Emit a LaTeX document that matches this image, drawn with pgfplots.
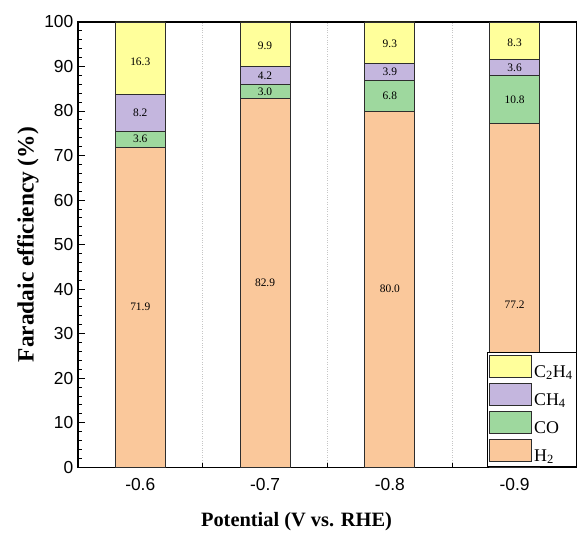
\documentclass[border=0pt]{standalone}
\usepackage{fontspec}
\setmainfont{Liberation Serif}
\newfontfamily\arial{Liberation Sans}
\usepackage{pgfplots}
\pgfplotsset{compat=1.18}
\usetikzlibrary{calc}
\definecolor{cH}{RGB}{250,200,155}
\definecolor{cCO}{RGB}{158,216,158}
\definecolor{cCH}{RGB}{196,182,222}
\definecolor{cCC}{RGB}{255,255,155}
\definecolor{edge}{RGB}{45,45,45}
\tikzset{lbl/.style={font=\fontsize{11.5}{13}\selectfont}}
\begin{document}
\begin{tikzpicture}
\begin{axis}[name=ax, width=500bp, height=446bp, scale only axis,
 xmin=-0.5, xmax=3.5, ymin=0, ymax=100,
 ybar stacked, bar width=0.4,
 legend image code/.code={\draw[#1, draw=edge, line width=0.8bp] (0bp,-5bp) rectangle (42bp,17bp);},
 xtick={0,1,2,3}, xticklabels={-0.6,-0.7,-0.8,-0.9},
 minor xtick={0.5,1.5,2.5},
 ytick={0,10,...,100}, minor y tick num=4,
 xtick pos=bottom, ytick pos=left, tick align=inside,
 major tick length=7bp, minor tick length=4bp,
 tick style={black, line width=0.9bp},
 axis line style={black, line width=1.3bp},
 xminorgrids, minor x grid style={gray!45, dotted, line width=0.7bp},
 /pgf/number format/assume math mode=true,
 ticklabel style={font=\arial\fontsize{17.5}{19}\selectfont},
 xticklabel style={yshift=-8bp},
 yticklabel style={xshift=-1bp},
 xlabel={Potential (V vs. RHE)}, ylabel={Faradaic efficiency (\%)},
 xlabel style={font=\fontsize{20.5}{22}\selectfont\bfseries, at={(axis description cs:0.438,-0.123)}, anchor=center},
 ylabel style={font=\fontsize{23.5}{25}\selectfont\bfseries, at={(axis description cs:-0.1,0.5)}, anchor=center},
 reverse legend,
 legend style={at={(1,0)}, anchor=south east, draw=black, line width=1bp,
   font=\fontsize{18}{20}\selectfont, cells={anchor=west}, row sep=2bp,
   inner xsep=2bp, inner ysep=2bp},
 ]
\addplot[fill=cH, draw=edge, line width=0.8bp] coordinates {(0,71.9) (1,82.9) (2,80.0) (3,77.2)};
\addlegendentry{H\textsubscript{2}}
\addplot[fill=cCO, draw=edge, line width=0.8bp] coordinates {(0,3.6) (1,3.0) (2,6.8) (3,10.8)};
\addlegendentry{CO}
\addplot[fill=cCH, draw=edge, line width=0.8bp] coordinates {(0,8.2) (1,4.2) (2,3.9) (3,3.6)};
\addlegendentry{CH\textsubscript{4}}
\addplot[fill=cCC, draw=edge, line width=0.8bp] coordinates {(0,16.3) (1,9.9) (2,9.3) (3,8.3)};
\addlegendentry{C\textsubscript{2}H\textsubscript{4}}
\coordinate (h0) at (axis cs:0,36.0);
\coordinate (h1) at (axis cs:1,41.4);
\coordinate (h2) at (axis cs:2,40.0);
\coordinate (h3) at (axis cs:3,36.5);
\coordinate (o0) at (axis cs:0,73.7);
\coordinate (o1) at (axis cs:1,84.4);
\coordinate (o2) at (axis cs:2,83.4);
\coordinate (o3) at (axis cs:3,82.6);
\coordinate (m0) at (axis cs:0,79.6);
\coordinate (m1) at (axis cs:1,88.0);
\coordinate (m2) at (axis cs:2,88.7);
\coordinate (m3) at (axis cs:3,89.8);
\coordinate (e0) at (axis cs:0,91.0);
\coordinate (e1) at (axis cs:1,94.6);
\coordinate (e2) at (axis cs:2,95.0);
\coordinate (e3) at (axis cs:3,95.4);
\end{axis}
\node[lbl] at (h0) {71.9};
\node[lbl] at (h1) {82.9};
\node[lbl] at (h2) {80.0};
\node[lbl] at (h3) {77.2};
\node[lbl] at (o0) {3.6};
\node[lbl] at (o1) {3.0};
\node[lbl] at (o2) {6.8};
\node[lbl] at (o3) {10.8};
\node[lbl] at (m0) {8.2};
\node[lbl] at (m1) {4.2};
\node[lbl] at (m2) {3.9};
\node[lbl] at (m3) {3.6};
\node[lbl] at (e0) {16.3};
\node[lbl] at (e1) {9.9};
\node[lbl] at (e2) {9.3};
\node[lbl] at (e3) {8.3};
\pgfresetboundingbox
\path ($(ax.south west)+(-78bp,-68bp)$) rectangle ($(ax.north east)+(0bp,22bp)$);
\end{tikzpicture}
\end{document}
